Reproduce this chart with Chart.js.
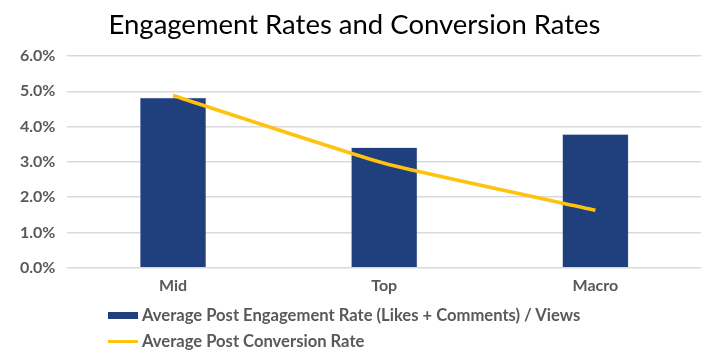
<!DOCTYPE html>
<html>
<head>
<meta charset="utf-8">
<script src="https://cdn.jsdelivr.net/npm/chart.js@4.4.1/dist/chart.umd.min.js"></script>
<style>
  html, body { margin: 0; padding: 0; background: #fff; }
  #wrap { position: relative; width: 720px; height: 363px; }
  #legend { position: absolute; left: 108px; top: 302px; font-family: Lato, "Open Sans", sans-serif; font-weight: bold; font-size: 16.6px; color: #595959; }
  .item { display: flex; align-items: center; height: 26px; }
  .swatch { width: 30px; margin-right: 4px; }
</style>
</head>
<body>
<div id="wrap">
  <canvas id="chart_one" width="720" height="363"></canvas>
  <div id="legend"></div>
</div>
<script>
var categories = ["Mid", "Top", "Macro"];
var engagementRates = [4.82, 3.41, 3.78];
var conversionRates = [4.88, 2.96, 1.63];
var yTicks = [0, 1, 2, 3, 4, 5, 6];
var seriesNames = [
  "Average Post Engagement Rate (Likes + Comments) / Views",
  "Average Post Conversion Rate"
];
var barColor = "#1F3F7D";
var lineColor = "#FFC20E";

Chart.defaults.font.family = "Lato, 'Open Sans', sans-serif";
Chart.defaults.color = "#595959";

let ctx = document.getElementById("chart_one").getContext("2d");
let ratesChart = new Chart(ctx, {
  type: "bar",
  data: {
    labels: categories,
    datasets: [
      {
        type: "line",
        label: seriesNames[1],
        data: conversionRates,
        borderColor: lineColor,
        borderWidth: 3.5,
        pointRadius: 0,
        tension: 0.15,
        fill: false,
        order: 0,
      },
      {
        label: seriesNames[0],
        data: engagementRates,
        backgroundColor: barColor,
        borderColor: "#8EA3C7",
        borderWidth: 0.5,
        categoryPercentage: 1,
        barPercentage: 0.313,
        order: 1,
      },
    ],
  },
  options: {
    responsive: false,
    animation: false,
    layout: {
      padding: { left: 8, right: 19, top: 4, bottom: 68 },
    },
    plugins: {
      legend: { display: false },
      tooltip: { enabled: false },
      title: {
        display: true,
        text: "Engagement Rates and Conversion Rates",
        color: "#000",
        font: { size: 27.5, weight: "normal" },
        padding: { top: 5, bottom: 14 },
      },
    },
    scales: {
      x: {
        grid: { display: false },
        border: { display: false },
        ticks: { font: { size: 16, weight: "bold" }, padding: 0 },
      },
      y: {
        min: 0,
        max: 6,
        afterBuildTicks: function (axis) {
          axis.ticks = yTicks.map(function (v) { return { value: v }; });
        },
        grid: { color: "#D9D9D9", lineWidth: 1.5, drawTicks: false },
        border: { display: false },
        ticks: {
          font: { size: 16, weight: "bold" },
          padding: 12,
          callback: function (v) { return v.toFixed(1) + "%"; },
        },
      },
    },
  },
});

var legend = document.getElementById("legend");
ratesChart.data.datasets.slice().reverse().forEach(function (ds) {
  let item = document.createElement("div");
  item.className = "item";
  let sw = document.createElement("div");
  sw.className = "swatch";
  if (ds.type === "line") {
    sw.style.height = "3px";
    sw.style.background = ds.borderColor;
  } else {
    sw.style.height = "7px";
    sw.style.background = ds.backgroundColor;
  }
  let txt = document.createElement("span");
  txt.textContent = ds.label;
  item.appendChild(sw);
  item.appendChild(txt);
  legend.appendChild(item);
});
</script>
</body>
</html>
